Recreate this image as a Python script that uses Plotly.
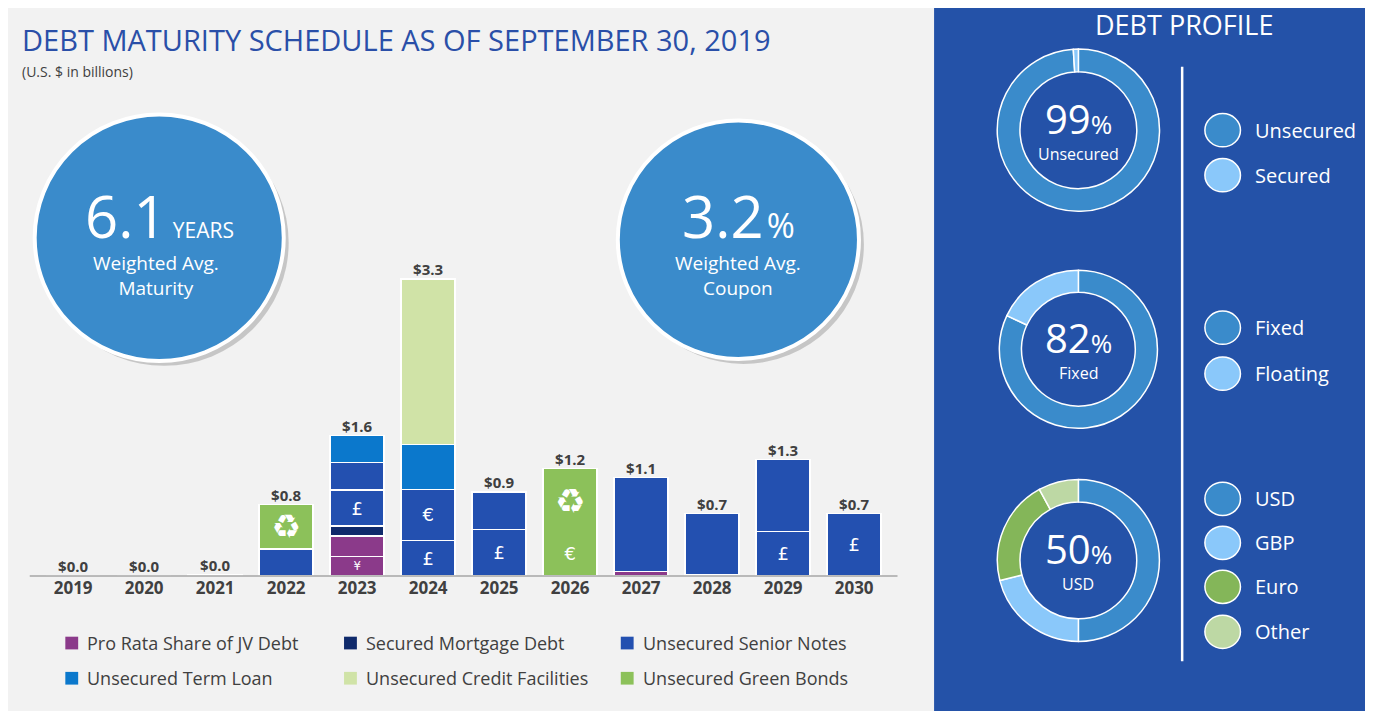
import plotly.graph_objects as go

# =====================================
# DATA
# =====================================

years = ["2019", "2020", "2021", "2022", "2023", "2024", "2025", "2026", "2027", "2028", "2029", "2030"]
totals = ["$0.0", "$0.0", "$0.0", "$0.8", "$1.6", "$3.3", "$0.9", "$1.2", "$1.1", "$0.7", "$1.3", "$0.7"]

pro_rata_a = [0, 0, 0.02, 0, 0.22, 0, 0, 0, 0.05, 0.02, 0, 0]
pro_rata_b = [0, 0, 0, 0, 0.23, 0, 0, 0, 0, 0, 0, 0]
mortgage = [0, 0, 0, 0, 0.11, 0, 0, 0, 0, 0, 0, 0]
senior_a = [0, 0, 0, 0.3, 0.4, 0.4, 0.52, 0, 1.05, 0.68, 0.5, 0.7]
senior_b = [0, 0, 0, 0, 0.31, 0.57, 0.42, 0, 0, 0, 0.8, 0]
term_loan = [0, 0, 0, 0, 0.3, 0.5, 0, 0, 0, 0, 0, 0]
credit = [0, 0, 0, 0, 0, 1.85, 0, 0, 0, 0, 0, 0]
green = [0, 0, 0, 0.5, 0, 0, 0, 1.2, 0, 0, 0, 0]

pro_rata_a_txt = ["", "", "", "", "¥", "", "", "", "", "", "", ""]
senior_a_txt = ["", "", "", "", "£", "£", "£", "", "", "", "£", "£"]
senior_b_txt = ["", "", "", "", "", "€", "", "", "", "", "", ""]
green_txt = ["", "", "", "<span style='font-size:34px'>♻</span>", "", "", "", "<span style='font-size:34px'>♻</span><br><br>€", "", "", "", ""]

legend_names = ["Pro Rata Share of JV Debt", "Secured Mortgage Debt", "Unsecured Senior Notes",
                "Unsecured Term Loan", "Unsecured Credit Facilities", "Unsecured Green Bonds"]

secured_labels = ["Unsecured", "Secured"]
secured_vals = [99, 1]
rate_labels = ["Fixed", "Floating"]
rate_vals = [82, 18]
ccy_labels = ["USD", "GBP", "Euro", "Other"]
ccy_vals = [50, 21, 21, 8]

# =====================================
# COLORS
# =====================================

C_PRO = "#8b3a8a"
C_MORT = "#0f2a6b"
C_SEN = "#2350b0"
C_TERM = "#0b78cc"
C_CRED = "#d0e3a7"
C_GREEN = "#8cc15a"
legend_colors = [C_PRO, C_MORT, C_SEN, C_TERM, C_CRED, C_GREEN]
donut_cols = ["#3a8bcb", "#8ac8fa", "#84b659", "#bdd8a4"]

W, H = 1373, 719
FONT = "Open Sans"


def px(x):
    return x / W


def py(y):
    return 1 - y / H


fig = go.Figure()

# =====================================
# STACKED BARS
# =====================================

stack = [
    (pro_rata_a, C_PRO, pro_rata_a_txt),
    (pro_rata_b, C_PRO, None),
    (mortgage, C_MORT, None),
    (senior_a, C_SEN, senior_a_txt),
    (senior_b, C_SEN, senior_b_txt),
    (term_loan, C_TERM, None),
    (credit, C_CRED, None),
    (green, C_GREEN, green_txt),
]

for vals, col, txt in stack:
    fig.add_trace(
        go.Bar(
            x=years,
            y=vals,
            marker=dict(color=col, line=dict(color="white", width=1.5)),
            text=txt,
            textposition="inside",
            insidetextanchor="middle",
            textangle=0,
            textfont=dict(color="white", size=18, family="DejaVu Sans"),
            width=0.76,
            showlegend=False,
            hoverinfo="skip",
        )
    )

bar_tops = [sum(v) for v in zip(pro_rata_a, pro_rata_b, mortgage, senior_a, senior_b, term_loan, credit, green)]
fig.add_trace(
    go.Scatter(
        x=years,
        y=bar_tops,
        mode="text",
        text=[f"<b>{t}</b>" for t in totals],
        textposition="top center",
        textfont=dict(color="#404040", size=15, family=FONT),
        showlegend=False,
        hoverinfo="skip",
    )
)

# =====================================
# DONUTS
# =====================================

donuts = [
    (secured_labels, secured_vals, (1000, 1166), (42, 208), "99", "Unsecured"),
    (rate_labels, rate_vals, (1003, 1163), (262, 436), "82", "Fixed"),
    (ccy_labels, ccy_vals, (1001, 1165), (482, 648), "50", "USD"),
]

for labels, vals, (x0, x1), (y0, y1), big, small in donuts:
    fig.add_trace(
        go.Pie(
            labels=labels,
            values=vals,
            hole=0.72,
            sort=False,
            direction="clockwise",
            rotation=0,
            marker=dict(colors=donut_cols[:len(vals)], line=dict(color="white", width=1.5)),
            textinfo="none",
            domain=dict(x=[px(x0), px(x1)], y=[py(y1), py(y0)]),
            showlegend=False,
            hoverinfo="label+percent",
        )
    )
    cx = (x0 + x1) / 2
    cy = (y0 + y1) / 2
    fig.add_annotation(x=px(cx), y=py(cy - 12), xref="paper", yref="paper",
                       xanchor="center", yanchor="middle",
                       text=f"<span style='font-size:40px'>{big}</span><span style='font-size:26px'>%</span>",
                       showarrow=False, font=dict(color="white", family=FONT))
    fig.add_annotation(x=px(cx), y=py(cy + 24), xref="paper", yref="paper", text=small,
                       xanchor="center", yanchor="middle",
                       showarrow=False, font=dict(color="white", size=16, family=FONT))

# =====================================
# SHAPES / TEXT
# =====================================

shapes = [
    dict(type="rect", xref="paper", yref="paper", x0=px(937), x1=1, y0=0, y1=1,
         fillcolor="#2452a8", line=dict(width=0), layer="below"),
    dict(type="line", xref="paper", yref="paper", x0=px(1188), x1=px(1188), y0=py(60), y1=py(668),
         line=dict(color="white", width=2.5)),
    dict(type="line", xref="paper", yref="paper", x0=px(22), x1=px(900), y0=py(581), y1=py(581),
         line=dict(color="#a6a6a6", width=1.5)),
]

# big bubbles
for cx, cy, r in [(153, 235, 126), (739, 237, 122)]:
    shapes.append(dict(type="circle", xref="paper", yref="paper",
                       x0=px(cx - r + 5), x1=px(cx + r + 5), y0=py(cy + r + 5), y1=py(cy - r + 5),
                       fillcolor="rgba(0,0,0,0.18)", line=dict(width=0)))
    shapes.append(dict(type="circle", xref="paper", yref="paper",
                       x0=px(cx - r), x1=px(cx + r), y0=py(cy + r), y1=py(cy - r),
                       fillcolor="#3a8bcb", line=dict(color="white", width=4)))

# right legend circles
legend_rows = [
    ("Unsecured", donut_cols[0], 125), ("Secured", donut_cols[1], 171),
    ("Fixed", donut_cols[0], 327), ("Floating", donut_cols[1], 374),
    ("USD", donut_cols[0], 502), ("GBP", donut_cols[1], 547),
    ("Euro", donut_cols[2], 592), ("Other", donut_cols[3], 638),
]
for name, col, yy in legend_rows:
    shapes.append(dict(type="circle", xref="paper", yref="paper",
                       x0=px(1211), x1=px(1247), y0=py(yy + 17), y1=py(yy - 17),
                       fillcolor=col, line=dict(color="white", width=1.5)))
    fig.add_annotation(x=px(1260), y=py(yy), xref="paper", yref="paper", text=name,
                       xanchor="left", yanchor="middle", showarrow=False,
                       font=dict(color="white", size=20, family=FONT))

annotations = [
    dict(x=px(12), y=py(32), text="DEBT MATURITY SCHEDULE AS OF SEPTEMBER 30, 2019",
         font=dict(color="#2a4fa8", size=29, family=FONT)),
    dict(x=px(12), y=py(65), text="(U.S. $ in billions)", font=dict(color="#404040", size=14, family=FONT)),
    dict(x=px(1190), y=py(17), text="DEBT PROFILE", xanchor="center",
         font=dict(color="white", size=27, family=FONT)),
    dict(x=px(153), y=py(212),
         text="<span style='font-size:58px'>6.1</span>  <span style='font-size:21px'>YEARS</span>",
         xanchor="center", font=dict(color="white", family=FONT)),
    dict(x=px(150), y=py(274), text="Weighted Avg.<br>Maturity", xanchor="center",
         font=dict(color="white", size=19, family=FONT)),
    dict(x=px(739), y=py(212),
         text="<span style='font-size:58px'>3.2</span> <span style='font-size:34px'>%</span>",
         xanchor="center", font=dict(color="white", family=FONT)),
    dict(x=px(739), y=py(274), text="Weighted Avg.<br>Coupon", xanchor="center",
         font=dict(color="white", size=19, family=FONT)),
]
for a in annotations:
    a.setdefault("xanchor", "left")
    fig.add_annotation(xref="paper", yref="paper", showarrow=False, yanchor="middle", **a)

# bottom legend
for i, (name, col) in enumerate(zip(legend_names, legend_colors)):
    lx = [58, 340, 620][i % 3]
    ly = [649, 685][i // 3]
    shapes.append(dict(type="rect", xref="paper", yref="paper",
                       x0=px(lx), x1=px(lx + 13), y0=py(ly + 7), y1=py(ly - 6),
                       fillcolor=col, line=dict(width=0)))
    fig.add_annotation(x=px(lx + 20), y=py(ly), xref="paper", yref="paper", text=name,
                       xanchor="left", yanchor="middle", showarrow=False,
                       font=dict(color="#404040", size=18, family=FONT))

# =====================================
# LAYOUT
# =====================================

fig.update_layout(
    width=W - 16,
    height=H - 16,
    margin=dict(l=0, r=0, t=0, b=0),
    paper_bgcolor="#f2f2f2",
    plot_bgcolor="rgba(0,0,0,0)",
    barmode="stack",
    bargap=0.24,
    shapes=shapes,
    xaxis=dict(domain=[px(22), px(900)], showgrid=False, zeroline=False, ticks="",
               tickfont=dict(color="#404040", size=17, family=FONT), fixedrange=True),
    yaxis=dict(domain=[py(581), py(100)], range=[0, 3.3 * 481 / 302], visible=False, fixedrange=True),
)
fig.update_xaxes(tickprefix="<b>", ticksuffix="</b>")

fig.write_html("out.html")
